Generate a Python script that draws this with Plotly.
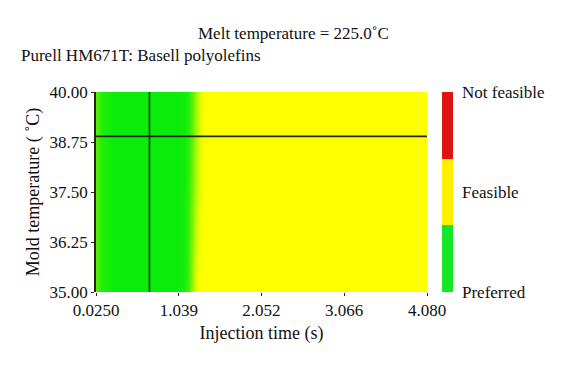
import plotly.graph_objects as go

# ---- data ----
inj_time = [0.025, 0.1, 0.25, 1.0, 1.1, 1.15, 1.2, 1.25, 1.3, 1.35, 1.5, 4.08]
mold_temp = [35.0, 37.5, 40.0]
# quality index: 0 = preferred (green), 1 = feasible (yellow)
quality = [
    [0.3, 0.1, 0.0, 0.0, 0.05, 0.2, 0.55, 0.9, 1.0, 1.0, 1.0, 1.0],
    [0.3, 0.1, 0.0, 0.0, 0.03, 0.15, 0.4, 0.7, 0.9, 1.0, 1.0, 1.0],
    [0.3, 0.1, 0.0, 0.0, 0.02, 0.1, 0.3, 0.6, 0.85, 1.0, 1.0, 1.0],
]
x_ticks = [0.025, 1.039, 2.052, 3.066, 4.080]
x_ticklabels = ["0.0250", "1.039", "2.052", "3.066", "4.080"]
y_ticks = [35.0, 36.25, 37.5, 38.75, 40.0]
y_ticklabels = ["35.00", "36.25", "37.50", "38.75", "40.00"]
sel_time = 0.68
sel_mold = 38.89
legend_levels = [0, 1, 2]
legend_labels = ["Preferred", "Feasible", "Not feasible"]

FONT = "Liberation Serif"
GREEN = "rgb(10,236,10)"
YELLOW = "rgb(255,255,0)"
RED = "rgb(222,20,20)"
DARK = "#262614"

fig = go.Figure()

fig.add_trace(go.Heatmap(
    x=inj_time, y=mold_temp, z=quality, zmin=0, zmax=1, zsmooth="best",
    colorscale=[[0, GREEN], [1, YELLOW]], showscale=False, hoverinfo="skip",
))

# discrete legend bar
fig.add_trace(go.Heatmap(
    x=[0], y=legend_levels, z=[[v] for v in legend_levels], zmin=0, zmax=2,
    colorscale=[[0, "rgb(20,230,40)"], [0.333, "rgb(20,230,40)"],
                [0.334, "rgb(252,240,0)"], [0.666, "rgb(252,240,0)"],
                [0.667, RED], [1, RED]],
    showscale=False, xaxis="x2", yaxis="y2", hoverinfo="skip",
))

fig.add_shape(type="line", x0=sel_time, x1=sel_time, y0=35, y1=40,
              xref="x", yref="y", line=dict(color=DARK, width=1.6))
fig.add_shape(type="line", x0=0.025, x1=4.08, y0=sel_mold, y1=sel_mold,
              xref="x", yref="y", line=dict(color=DARK, width=1.6))

fig.update_layout(
    width=564, height=365, autosize=False,
    margin=dict(l=96, r=10, t=92, b=73, autoexpand=False),
    paper_bgcolor="white", plot_bgcolor="white",
    font=dict(family=FONT, size=17, color="#111"),
    xaxis=dict(domain=[0, 0.7227], range=[0.025, 4.08], tickvals=x_ticks,
               ticktext=x_ticklabels, ticks="outside", ticklen=3, tickcolor=DARK,
               showgrid=False, zeroline=False, showline=False, automargin=False,
               title=dict(text="Injection time (s)", standoff=6, font=dict(size=18)),
               tickfont=dict(size=17)),
    yaxis=dict(range=[35, 40], tickvals=y_ticks, ticktext=y_ticklabels,
               ticks="outside", ticklen=3, tickcolor=DARK, automargin=False,
               showgrid=False, zeroline=False, showline=True,
               linecolor=DARK, linewidth=1.5,
               title=dict(text="Mold temperature ( ˚C)", standoff=5,
                          font=dict(size=18)),
               tickfont=dict(size=17)),
    xaxis2=dict(domain=[0.7555, 0.7795], range=[-0.5, 0.5], anchor="y2",
                automargin=False,
                showticklabels=False, showgrid=False, zeroline=False, ticks=""),
    yaxis2=dict(domain=[0, 1], range=[-0.5, 2.5], anchor="x2", side="right",
                tickvals=[-0.5, 1, 2.5], ticktext=legend_labels, automargin=False,
                showgrid=False, zeroline=False, ticks="", ticklen=0,
                ticklabelstandoff=8, tickfont=dict(size=17)),
    annotations=[
        dict(text="Melt temperature = 225.0˚C", xref="paper", yref="paper",
             x=0.431, y=1, yshift=59, showarrow=False, font=dict(size=17),
             xanchor="center", yanchor="middle"),
        dict(text="Purell HM671T: Basell polyolefins", xref="paper", yref="paper",
             x=0, xshift=-77, y=1, yshift=37, showarrow=False, font=dict(size=17),
             xanchor="left", yanchor="middle"),
    ],
)

fig.write_html("out.html", config={"displayModeBar": False},
               post_script="document.body.style.margin='0';document.body.style.overflow='hidden';")
